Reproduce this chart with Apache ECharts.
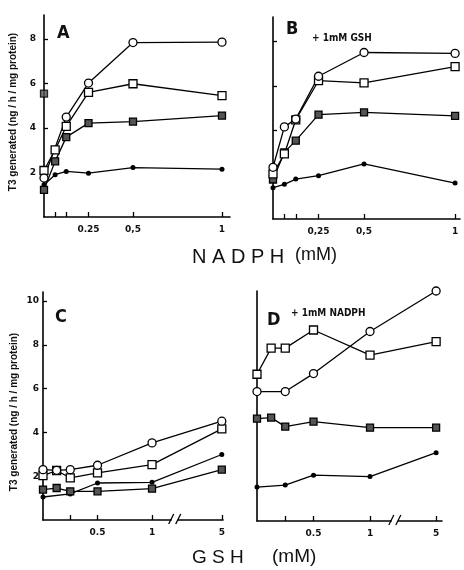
<!DOCTYPE html>
<html><head><meta charset="utf-8">
<script src="https://cdn.jsdelivr.net/npm/echarts@6/dist/echarts.min.js"></script>
<style>html,body{margin:0;padding:0;background:#fff}#c{width:464px;height:570px}</style>
</head><body><div id="c"></div><script>
// ---- Data: panels A & B (x = NADPH, mM) ----
const nadphConc = [0, 0.0625, 0.125, 0.25, 0.5, 1];
const nadphTickValues = [0.0625, 0.125, 0.25, 0.5, 1];
const nadphLabelValues = [0.25, 0.5, 1];
const nadphLabelsA = ['0.25', '0,5', '1'];
const nadphLabelsB = ['0,25', '0,5', '1'];
const aOpenCircle   = [1.75, null, 4.49, 6.02, 7.84, 7.86];
const aOpenSquare   = [2.09, 3.02, 4.07, 5.60, 5.99, 5.46];
const aFilledSquare = [1.22, 2.50, 3.59, 4.22, 4.29, 4.56];
const aFilledCircle = [1.45, 1.90, 2.05, 1.97, 2.22, 2.15];
const aExtraFilledSquare = [[0, 5.55]];
const bOpenCircle   = [2.33, 4.15, 4.50, 6.43, 7.50, 7.46];
const bOpenSquare   = [2.03, 2.93, 4.47, 6.23, 6.13, 6.86];
const bFilledSquare = [1.78, 3.00, 3.53, 4.70, 4.80, 4.65];
const bFilledCircle = [1.41, 1.56, 1.80, 1.95, 2.48, 1.62];
// ---- Data: panels C & D (x = GSH, mM, broken axis between 1 and 5) ----
const gshConc = [0, 0.125, 0.25, 0.5, 1, 5];
const gshTickValues = [0.25, 0.5, 1, 5];
const gshLabelValues = [0.5, 1, 5];
const gshLabels = ['0.5', '1', '5'];
const cOpenCircle   = [2.30, 2.27, 2.30, 2.50, 3.52, 4.51];
const cOpenSquare   = [2.03, 2.26, 1.92, 2.15, 2.53, 4.16];
const cFilledSquare = [1.39, 1.46, 1.31, 1.31, 1.43, 2.30];
const cFilledCircle = [1.05, null, 1.19, 1.69, 1.72, 2.99];
const dOpenCircle   = [5.91, null, 5.91, 6.73, 8.65, 10.50];
const dOpenSquare   = [6.70, 7.89, 7.89, 8.72, 7.57, 8.19];
const dFilledSquare = [4.67, 4.72, 4.31, 4.54, 4.26, 4.26];
const dFilledCircle = [1.55, null, 1.64, 2.09, 2.03, 3.12];
// ---- Tick labels ----
const yTickValuesAB = [2, 4, 6, 8];
const yTickValuesCD = [2, 4, 6, 8, 10];
const yAxisTitle = 'T3 generated (ng / h / mg protein)';

// broken-axis scale: values above 1 are compressed into [1, breakPos]
function brokenX(c, breakPos) {
  return c <= 1 ? c : 1 + (breakPos - 1) * (c - 1) / 4;
}
const breakPosC = 1.64, breakPosD = 1.585;

const styles = {
  openCircle:   {symbol: 'circle', symbolSize: 8, itemStyle: {color: '#fff', borderColor: '#000', borderWidth: 1.3}},
  openSquare:   {symbol: 'rect',   symbolSize: 8, itemStyle: {color: '#fff', borderColor: '#000', borderWidth: 1.3}},
  filledSquare: {symbol: 'rect',   symbolSize: 7, itemStyle: {color: '#555', borderColor: '#000', borderWidth: 1.3}},
  filledCircle: {symbol: 'circle', symbolSize: 5, itemStyle: {color: '#000', borderColor: '#000', borderWidth: 0}}
};

function pairs(xs, ys, fx) {
  const out = [];
  ys.forEach((y, i) => { if (y != null) out.push([fx ? fx(xs[i]) : xs[i], y]); });
  return out;
}
function lineSeries(idx, xs, ys, style, fx) {
  return Object.assign({
    type: 'line', xAxisIndex: idx, yAxisIndex: idx,
    data: pairs(xs, ys, fx), clip: false, animation: false,
    lineStyle: {color: '#000', width: 1.3},
    emphasis: {disabled: true}
  }, style);
}

const tickFont = {fontSize: 9, fontWeight: 'bold', color: '#111', fontFamily: 'DejaVu Sans'};
const axisLine = {show: true, onZero: false, lineStyle: {color: '#000', width: 1.6}};

function xAxisCfg(idx, max, tickVals, labelVals, labels) {
  return {
    gridIndex: idx, type: 'value', min: 0, max: max,
    axisLine: axisLine, splitLine: {show: false},
    axisTick: {show: true, inside: true, length: 5, lineStyle: {color: '#000', width: 1.3}, customValues: tickVals},
    axisLabel: Object.assign({show: true, margin: 8, customValues: labelVals,
      formatter: v => { const k = labelVals.findIndex(t => Math.abs(t - v) < 1e-6); return k >= 0 ? labels[k] : ''; }}, tickFont)
  };
}
function yAxisCfg(idx, max, tickVals, showLabels, margin) {
  return {
    gridIndex: idx, type: 'value', min: 0, max: max,
    axisLine: axisLine, splitLine: {show: false},
    axisTick: {show: tickVals.length > 0, inside: true, length: 4, lineStyle: {color: '#000', width: 1.3}, customValues: tickVals},
    axisLabel: Object.assign({show: showLabels, margin: margin, customValues: tickVals}, tickFont)
  };
}

const fxC = c => brokenX(c, breakPosC);
const fxD = c => brokenX(c, breakPosD);

const option = {
  backgroundColor: '#fff',
  animation: false,
  grid: [
    {left: 44, top: 15, width: 186, height: 202, outerBoundsMode: 'none'},
    {left: 273, top: 17, width: 187, height: 202, outerBoundsMode: 'none'},
    {left: 43, top: 292, width: 180, height: 228, outerBoundsMode: 'none'},
    {left: 257, top: 291, width: 185, height: 230, outerBoundsMode: 'none'}
  ],
  xAxis: [
    xAxisCfg(0, 1.045, nadphTickValues, nadphLabelValues, nadphLabelsA),
    xAxisCfg(1, 1.027, nadphTickValues, nadphLabelValues, nadphLabelsB),
    xAxisCfg(2, 1.651, gshTickValues.map(fxC), gshLabelValues.map(fxC), gshLabels),
    xAxisCfg(3, 1.637, gshTickValues.map(fxD), gshLabelValues.map(fxD), gshLabels)
  ],
  yAxis: [
    yAxisCfg(0, 9.08, yTickValuesAB, true, 8),
    yAxisCfg(1, 9.1, yTickValuesAB, false, 8),
    yAxisCfg(2, 10.41, yTickValuesCD, true, 4),
    yAxisCfg(3, 10.5, [], false, 4)
  ],
  series: [
    lineSeries(0, nadphConc, aFilledCircle, styles.filledCircle),
    lineSeries(0, nadphConc, aFilledSquare, styles.filledSquare),
    lineSeries(0, nadphConc, aOpenSquare, styles.openSquare),
    lineSeries(0, nadphConc, aOpenCircle, styles.openCircle),
    Object.assign({type: 'scatter', xAxisIndex: 0, yAxisIndex: 0, data: aExtraFilledSquare, clip: false}, styles.filledSquare),
    lineSeries(1, nadphConc, bFilledCircle, styles.filledCircle),
    lineSeries(1, nadphConc, bFilledSquare, styles.filledSquare),
    lineSeries(1, nadphConc, bOpenSquare, styles.openSquare),
    lineSeries(1, nadphConc, bOpenCircle, styles.openCircle),
    lineSeries(2, gshConc, cFilledCircle, styles.filledCircle, fxC),
    lineSeries(2, gshConc, cFilledSquare, styles.filledSquare, fxC),
    lineSeries(2, gshConc, cOpenSquare, styles.openSquare, fxC),
    lineSeries(2, gshConc, cOpenCircle, styles.openCircle, fxC),
    lineSeries(3, gshConc, dFilledCircle, styles.filledCircle, fxD),
    lineSeries(3, gshConc, dFilledSquare, styles.filledSquare, fxD),
    lineSeries(3, gshConc, dOpenSquare, styles.openSquare, fxD),
    lineSeries(3, gshConc, dOpenCircle, styles.openCircle, fxD)
  ]
};

const chart = echarts.init(document.getElementById('c'), null, {renderer: 'canvas'});
chart.setOption(option);

// texts and axis-break marks
const condensed = '"DejaVu Sans Condensed", "Liberation Sans Narrow", "DejaVu Sans", sans-serif';
function txt(id, text, x, y, size, opts) {
  return Object.assign({id: id, type: 'text', x: x, y: y, silent: true,
    style: Object.assign({text: text, fontSize: size, fontWeight: 'bold', fontFamily: condensed, fill: '#111',
      textAlign: 'left', textVerticalAlign: 'middle'}, (opts && opts.style) || {})},
    opts && opts.rotation != null ? {rotation: opts.rotation} : {});
}
const graphics = [
  txt('ytA', yAxisTitle, 13, 112, 10, {rotation: Math.PI / 2, style: {textAlign: 'center', fontFamily: 'Liberation Sans'}}),
  txt('ytC', yAxisTitle, 14, 412, 10, {rotation: Math.PI / 2, style: {textAlign: 'center', fontFamily: 'Liberation Sans'}}),
  txt('lA', 'A', 57, 33, 18),
  txt('lB', 'B', 286, 29, 18),
  txt('sB', '+ 1mM GSH', 312, 38, 10),
  txt('lC', 'C', 55, 317, 18),
  txt('lD', 'D', 267, 320, 18),
  txt('sD', '+ 1mM NADPH', 291, 313, 10),
  txt('xA1', 'N A D P H', 192, 257, 20, {style: {fontWeight: 'normal', fontFamily: 'Liberation Sans'}}),
  txt('xA2', '(mM)', 295, 255, 18, {style: {fontWeight: 'normal', fontFamily: 'Liberation Sans'}}),
  txt('xC1', 'G S H', 192, 558, 19, {style: {fontWeight: 'normal', fontFamily: 'Liberation Sans'}}),
  txt('xC2', '(mM)', 272, 557, 19, {style: {fontWeight: 'normal', fontFamily: 'Liberation Sans'}})
];
[[2, fxC(2.3)], [3, fxD(2.5)]].forEach(([ax, v]) => {
  const px = chart.convertToPixel({xAxisIndex: ax}, v);
  const py = chart.convertToPixel({yAxisIndex: ax}, 0);
  graphics.push({id: 'gap' + ax, type: 'rect', shape: {x: px - 3, y: py - 3, width: 6, height: 6}, style: {fill: '#fff'}, z: 10});
  graphics.push({id: 's1' + ax, type: 'line', shape: {x1: px - 6, y1: py + 4, x2: px - 1, y2: py - 6}, style: {stroke: '#000', lineWidth: 1.3}, z: 11});
  graphics.push({id: 's2' + ax, type: 'line', shape: {x1: px + 1, y1: py + 4, x2: px + 6, y2: py - 6}, style: {stroke: '#000', lineWidth: 1.3}, z: 11});
});
chart.setOption({graphic: graphics});
</script></body></html>
